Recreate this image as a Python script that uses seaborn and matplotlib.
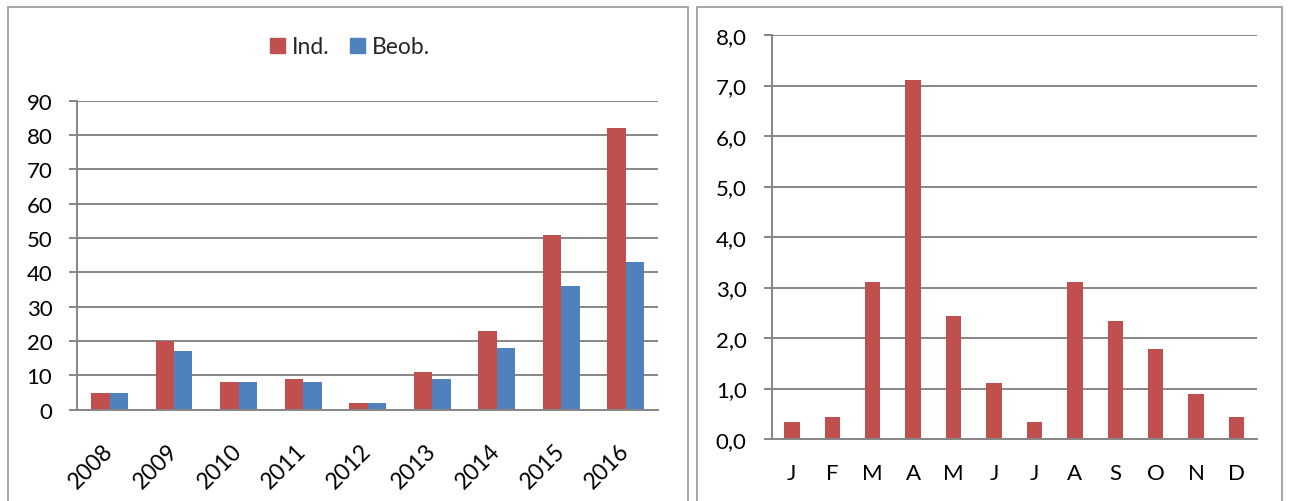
import matplotlib
matplotlib.use("Agg")
import matplotlib.pyplot as plt
import matplotlib.ticker as mticker
from matplotlib.patches import Rectangle
import seaborn as sns
import pandas as pd

# Yearly counts
years = ["2008", "2009", "2010", "2011", "2012", "2013", "2014", "2015", "2016"]
individuals = [5, 20, 8, 9, 2, 11, 23, 51, 82]
observations = [5, 17, 8, 8, 2, 9, 18, 36, 43]
series_names = ["Ind.", "Beob."]

# Monthly averages
months = ["J", "F", "M", "A", "M", "J", "J", "A", "S", "O", "N", "D"]
monthly = [0.33, 0.44, 3.11, 7.11, 2.44, 1.11, 0.33, 3.11, 2.33, 1.78, 0.89, 0.44]

RED = "#C0504D"
BLUE = "#4F81BD"
GRID = "#868686"
FRAME = "#A6A6A6"
TICK_FS = 16

sns.set_theme(style="white")
plt.rcParams["font.family"] = ["Lato", "DejaVu Sans"]
plt.rcParams["font.size"] = TICK_FS

W, H = 1290, 502
fig = plt.figure(figsize=(W / 100, H / 100), dpi=100)


def fx(px):
    return px / W


def fy(py):
    return 1 - py / H


# panel frames
for x0, x1 in [(8, 688), (697, 1282)]:
    fig.add_artist(Rectangle((fx(x0), fy(520)), fx(x1) - fx(x0), fy(8) - fy(520),
                             transform=fig.transFigure, fill=False,
                             edgecolor=FRAME, linewidth=1.4))

ax1 = fig.add_axes([fx(77.3), fy(410.7), fx(658) - fx(77.3), fy(101.7) - fy(410.7)])
ax2 = fig.add_axes([fx(771.7), fy(440), fx(1256.7) - fx(771.7), fy(36) - fy(440)])


def style_axis(ax):
    for side in ["top", "right"]:
        ax.spines[side].set_visible(False)
    for side in ["left", "bottom"]:
        ax.spines[side].set_color(GRID)
        ax.spines[side].set_linewidth(1.4)
    ax.yaxis.grid(True, color=GRID, linewidth=1.4)
    ax.xaxis.grid(False)
    ax.set_axisbelow(True)
    ax.tick_params(axis="both", colors=GRID, labelcolor="black", length=6,
                   width=1.4, direction="out", labelsize=TICK_FS,
                   bottom=True, left=True)
    ax.tick_params(axis="y", pad=12)
    ax.set_xlabel("")
    ax.set_ylabel("")


# left: yearly bars
df_years = pd.DataFrame({
    "year": years * 2,
    "value": individuals + observations,
    "series": [series_names[0]] * len(years) + [series_names[1]] * len(years),
})
sns.barplot(data=df_years, x="year", y="value", hue="series", ax=ax1,
            palette=[RED, BLUE], width=0.57, saturation=1, linewidth=0)
ax1.set_ylim(0, 90)
ax1.set_xlim(-0.5, len(years) - 0.5)
ax1.yaxis.set_major_locator(mticker.MultipleLocator(10))
style_axis(ax1)
ax1.set_xticks([i + 0.5 for i in range(-1, len(years))], minor=True)
ax1.tick_params(axis="x", which="major", length=0, pad=27)
ax1.tick_params(axis="x", which="minor", length=8, width=1.4, colors=GRID)
for lbl in ax1.get_xticklabels():
    lbl.set_rotation(45)
    lbl.set_ha("right")
    lbl.set_va("center")
    lbl.set_rotation_mode("anchor")
    lbl.set_fontsize(16.5)
ax1.get_legend().remove()
handles = [Rectangle((0, 0), 1, 1, color=RED), Rectangle((0, 0), 1, 1, color=BLUE)]
fig.legend(handles, series_names, loc="center", bbox_to_anchor=(fx(350), fy(48)),
           ncol=2, frameon=False, handlelength=0.65, handleheight=0.65,
           handletextpad=0.3, columnspacing=0.9, fontsize=16.5)

# right: monthly bars
df_months = pd.DataFrame({"pos": list(range(len(months))), "value": monthly})
sns.barplot(data=df_months, x="pos", y="value", ax=ax2, color=RED,
            width=0.38, saturation=1, linewidth=0)
ax2.set_ylim(0, 8)
ax2.set_xlim(-0.5, len(months) - 0.5)
ax2.yaxis.set_major_locator(mticker.MultipleLocator(1))
ax2.yaxis.set_major_formatter(mticker.FuncFormatter(lambda v, p: f"{v:.1f}".replace(".", ",")))
style_axis(ax2)
ax2.set_xticks(range(len(months)))
ax2.set_xticklabels(months)
ax2.set_xticks([i + 0.5 for i in range(-1, len(months))], minor=True)
ax2.tick_params(axis="x", which="major", length=0, pad=17)
ax2.tick_params(axis="x", which="minor", length=8, width=1.4, colors=GRID)

fig.savefig("out.png", dpi=100)
